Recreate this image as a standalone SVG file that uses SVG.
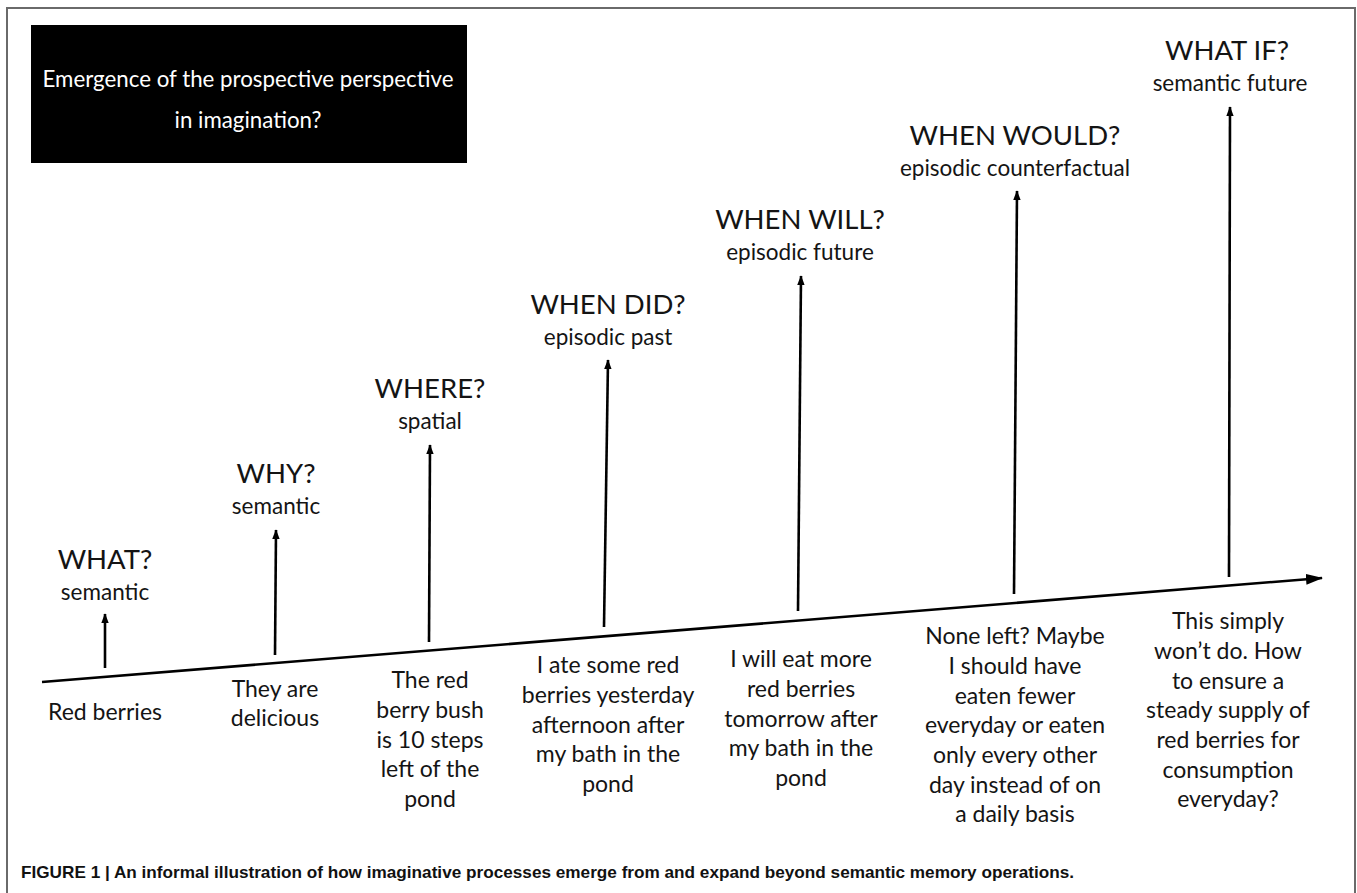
<svg xmlns="http://www.w3.org/2000/svg" width="1357" height="893" viewBox="0 0 1357 893">
<defs>
<style>
.frame{fill:none;stroke:#6a6a6a;stroke-width:2}
.t{font-family:Lato,"Liberation Sans",sans-serif;fill:#141414;text-anchor:middle}
.h{font-size:27.5px}
.s{font-size:22.5px}
.b{font-size:23px}
.title{font-family:Lato,"Liberation Sans",sans-serif;fill:#fff;text-anchor:middle;font-size:22.3px}
.ax{stroke:#000;stroke-width:2.6;fill:none}
.cap{font-family:"Liberation Sans Narrow","Liberation Sans",sans-serif;font-weight:bold;font-size:17px;fill:#111}
</style>
<marker id="ah" markerWidth="10" markerHeight="12" viewBox="0 0 12 10" refX="11" refY="5" orient="auto" markerUnits="userSpaceOnUse">
<path d="M0,0.5 L12,5 L0,9.5 z" fill="#000"/>
</marker>
<marker id="ahBig" markerWidth="17" markerHeight="12" viewBox="0 0 17 12" refX="16" refY="6" orient="auto" markerUnits="userSpaceOnUse">
<path d="M0,0.5 L17,6 L0,11.5 z" fill="#000"/>
</marker>
</defs>
<rect width="1357" height="893" fill="#fff"/>
<path class="frame" d="M7,893 L7,8 L1355,8 L1355,893"/>

<g id="title">
<rect x="31" y="25" width="436" height="138" fill="#000"/>
<text class="title" x="248" y="87">Emergence of the prospective perspective</text>
<text class="title" x="248" y="128">in imagination?</text>
</g>

<g id="connectors">
<line class="ax" x1="42" y1="682" x2="1322" y2="578" marker-end="url(#ahBig)"/>
<line class="ax" x1="105" y1="668" x2="105" y2="614" marker-end="url(#ah)"/>
<line class="ax" x1="275" y1="655" x2="276" y2="530" marker-end="url(#ah)"/>
<line class="ax" x1="429" y1="642" x2="430" y2="445" marker-end="url(#ah)"/>
<line class="ax" x1="604" y1="627" x2="608" y2="360" marker-end="url(#ah)"/>
<line class="ax" x1="798" y1="611" x2="801" y2="276" marker-end="url(#ah)"/>
<line class="ax" x1="1014" y1="594" x2="1017" y2="191" marker-end="url(#ah)"/>
<line class="ax" x1="1229" y1="577" x2="1230" y2="107" marker-end="url(#ah)"/>
</g>

<g id="what">
<text class="t h" x="105" y="569">WHAT?</text>
<text class="t s" x="105" y="600">semantic</text>
<text class="t b" x="105" y="720">Red berries</text>
</g>
<g id="why">
<text class="t h" x="276" y="483">WHY?</text>
<text class="t s" x="276" y="514">semantic</text>
<text class="t b" x="275" y="697">They are</text>
<text class="t b" x="275" y="726">delicious</text>
</g>
<g id="where">
<text class="t h" x="430" y="398">WHERE?</text>
<text class="t s" x="430" y="429">spatial</text>
<text class="t b" x="430" y="688">The red</text>
<text class="t b" x="430" y="718">berry bush</text>
<text class="t b" x="430" y="748">is 10 steps</text>
<text class="t b" x="430" y="777">left of the</text>
<text class="t b" x="430" y="807">pond</text>
</g>
<g id="when-did">
<text class="t h" x="608" y="314">WHEN DID?</text>
<text class="t s" x="608" y="345">episodic past</text>
<text class="t b" x="608" y="673">I ate some red</text>
<text class="t b" x="608" y="703">berries yesterday</text>
<text class="t b" x="608" y="733">afternoon after</text>
<text class="t b" x="608" y="762">my bath in the</text>
<text class="t b" x="608" y="792">pond</text>
</g>
<g id="when-will">
<text class="t h" x="800" y="229">WHEN WILL?</text>
<text class="t s" x="800" y="260">episodic future</text>
<text class="t b" x="801" y="667">I will eat more</text>
<text class="t b" x="801" y="697">red berries</text>
<text class="t b" x="801" y="727">tomorrow after</text>
<text class="t b" x="801" y="756">my bath in the</text>
<text class="t b" x="801" y="786">pond</text>
</g>
<g id="when-would">
<text class="t h" x="1015" y="145">WHEN WOULD?</text>
<text class="t s" x="1015" y="176">episodic counterfactual</text>
<text class="t b" x="1015" y="644">None left? Maybe</text>
<text class="t b" x="1015" y="674">I should have</text>
<text class="t b" x="1015" y="704">eaten fewer</text>
<text class="t b" x="1015" y="733">everyday or eaten</text>
<text class="t b" x="1015" y="763">only every other</text>
<text class="t b" x="1015" y="793">day instead of on</text>
<text class="t b" x="1015" y="822">a daily basis</text>
</g>
<g id="what-if">
<text class="t h" x="1227" y="60">WHAT IF?</text>
<text class="t s" x="1230" y="91">semantic future</text>
<text class="t b" x="1228" y="629">This simply</text>
<text class="t b" x="1228" y="659">won’t do. How</text>
<text class="t b" x="1228" y="689">to ensure a</text>
<text class="t b" x="1228" y="718">steady supply of</text>
<text class="t b" x="1228" y="748">red berries for</text>
<text class="t b" x="1228" y="778">consumption</text>
<text class="t b" x="1228" y="807">everyday?</text>
</g>

<g id="caption">
<text class="cap" x="21" y="878" textLength="1053" lengthAdjust="spacingAndGlyphs">FIGURE 1 | An informal illustration of how imaginative processes emerge from and expand beyond semantic memory operations.</text>
</g>
</svg>
